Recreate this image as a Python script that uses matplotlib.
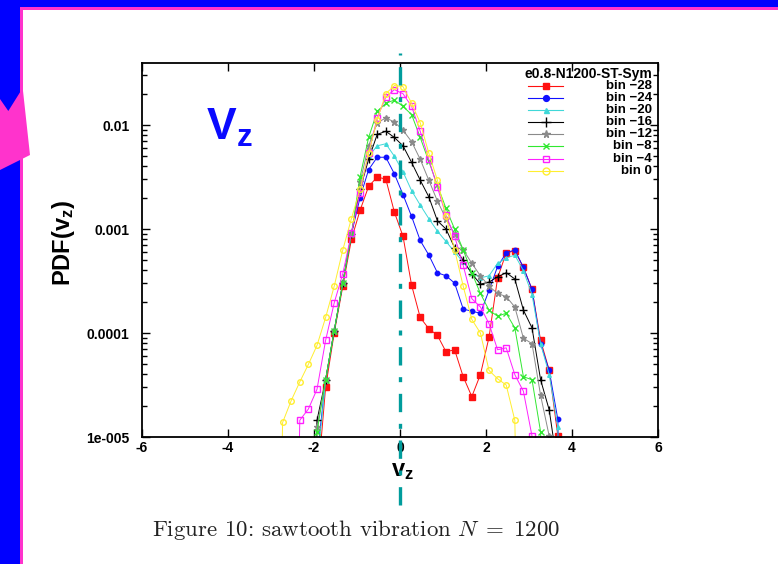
import numpy as np
import matplotlib.pyplot as plt
from matplotlib.patches import Rectangle, Polygon
from matplotlib.ticker import NullFormatter, NullLocator, LogLocator

# velocity bin centres (v_z)
vz = [-2.93, -2.73, -2.53, -2.33, -2.13, -1.93, -1.73, -1.53, -1.33, -1.13,
      -0.93, -0.73, -0.53, -0.33, -0.13, 0.07, 0.27, 0.47, 0.67, 0.87,
      1.07, 1.27, 1.47, 1.67, 1.87, 2.07, 2.27, 2.47, 2.67, 2.87,
      3.07, 3.27, 3.47, 3.67, 3.87]

nan = np.nan
pdf_m28 = [nan, nan, nan, nan, nan, 3.2e-6, 3.0e-5, 1.0e-4, 2.82e-4, 7.94e-4,
           1.51e-3, 2.57e-3, 3.16e-3, 3.02e-3, 1.45e-3, 8.51e-4, 2.88e-4, 1.41e-4, 1.1e-4, 9.5e-5,
           6.6e-5, 6.9e-5, 3.8e-5, 2.45e-5, 3.98e-5, 9.1e-5, 3.39e-4, 5.89e-4, 6.17e-4, 4.27e-4,
           2.63e-4, 8.5e-5, 4.37e-5, 1.03e-5, 1e-9]
pdf_m24 = [nan, nan, nan, nan, nan, 6.3e-6, 3.55e-5, 1.05e-4, 3.02e-4, 8.91e-4,
           2.0e-3, 3.72e-3, 4.9e-3, 4.9e-3, 3.39e-3, 2.14e-3, 1.32e-3, 7.76e-4, 5.62e-4, 3.8e-4,
           3.55e-4, 3.02e-4, 1.7e-4, 1.62e-4, 1.55e-4, 2.57e-4, 4.37e-4, 5.89e-4, 6.31e-4, 4.27e-4,
           2.63e-4, 7.9e-5, 4.37e-5, 1.48e-5, 1e-9]
pdf_m20 = [nan, nan, nan, nan, nan, 5.0e-6, 3.55e-5, 1.05e-4, 3.02e-4, 8.91e-4,
           2.51e-3, 5.0e-3, 6.31e-3, 6.61e-3, 5.0e-3, 3.55e-3, 2.34e-3, 1.7e-3, 1.26e-3, 9.55e-4,
           7.59e-4, 6.03e-4, 4.79e-4, 3.8e-4, 3.39e-4, 3.55e-4, 4.68e-4, 5.25e-4, 5.62e-4, 3.98e-4,
           2.34e-4, 7.9e-5, 3.98e-5, 1.26e-5, 1e-9]
pdf_m16 = [nan, nan, nan, nan, 1e-9, 1.45e-5, 3.55e-5, 1.05e-4, 3.02e-4, 8.91e-4,
           2.4e-3, 4.68e-3, 8.13e-3, 8.71e-3, 7.59e-3, 6.31e-3, 4.37e-3, 2.95e-3, 2.04e-3, 1.2e-3,
           1.0e-3, 6.61e-4, 5.0e-4, 3.72e-4, 2.95e-4, 3.09e-4, 3.47e-4, 3.8e-4, 3.31e-4, 1.66e-4,
           1.12e-4, 3.55e-5, 1.82e-5, 5.0e-6, nan]
pdf_m12 = [nan, nan, nan, nan, 1e-9, 1.26e-5, 3.55e-5, 1.05e-4, 3.02e-4, 8.91e-4,
           2.82e-3, 6.31e-3, 1.05e-2, 1.17e-2, 1.07e-2, 8.91e-3, 6.92e-3, 4.68e-3, 2.95e-3, 1.86e-3,
           1.26e-3, 8.91e-4, 6.31e-4, 4.68e-4, 3.55e-4, 2.82e-4, 2.4e-4, 2.24e-4, 1.78e-4, 8.91e-5,
           7.9e-5, 2.51e-5, 1.02e-5, 1e-9, nan]
pdf_m8 = [nan, nan, nan, nan, 1e-9, 1.12e-5, 3.55e-5, 1.05e-4, 3.02e-4, 8.91e-4,
          3.16e-3, 7.59e-3, 1.35e-2, 1.62e-2, 1.74e-2, 1.51e-2, 1.26e-2, 7.59e-3, 4.47e-3, 2.63e-3,
          1.58e-3, 1.0e-3, 6.31e-4, 3.8e-4, 2.4e-4, 1.66e-4, 1.45e-4, 1.55e-4, 1.12e-4, 3.8e-5,
          3.55e-5, 1.12e-5, 1e-9, nan, nan]
pdf_m4 = [nan, nan, 1e-9, 1.45e-5, 1.86e-5, 2.88e-5, 8.5e-5, 1.95e-4, 3.72e-4, 9.12e-4,
          2.24e-3, 5.37e-3, 1.17e-2, 1.86e-2, 2.19e-2, 2.0e-2, 1.51e-2, 8.71e-3, 4.68e-3, 2.51e-3,
          1.35e-3, 8.51e-4, 4.47e-4, 2.14e-4, 1.78e-4, 1.23e-4, 6.9e-5, 7.2e-5, 3.98e-5, 2.75e-5,
          1.02e-5, 1e-9, nan, nan, nan]
pdf_0 = [1e-9, 1.38e-5, 2.24e-5, 3.39e-5, 5.0e-5, 7.6e-5, 1.41e-4, 2.82e-4, 6.31e-4, 1.26e-3,
         2.4e-3, 5.37e-3, 1.12e-2, 2.0e-2, 2.4e-2, 2.34e-2, 1.62e-2, 1.05e-2, 5.37e-3, 2.95e-3,
         1.32e-3, 6.31e-4, 2.82e-4, 1.35e-4, 1.0e-4, 4.37e-5, 3.63e-5, 3.16e-5, 1.45e-5, 1e-9,
         nan, nan, nan, nan, nan]

series = [pdf_m28, pdf_m24, pdf_m20, pdf_m16, pdf_m12, pdf_m8, pdf_m4, pdf_0]
labels = ["bin \u221228", "bin \u221224", "bin \u221220", "bin \u221216",
          "bin \u221212", "bin \u22128", "bin \u22124", "bin 0"]
colors = ["#ff1010", "#1010ff", "#40d8d8", "#000000", "#8a8a8a", "#30e830", "#ff20ff", "#ffee30"]
markers = ["s", "o", "^", "+", "*", "x", "s", "o"]
msizes = [4, 3.2, 2.6, 5.5, 4.5, 4, 4, 4]
filled = [True, True, True, True, True, True, False, False]
legend_title = "e0.8-N1200-ST-Sym"

plt.rcParams['font.family'] = 'Liberation Sans'
plt.rcParams['axes.unicode_minus'] = False
plt.rcParams['mathtext.fontset'] = 'custom'
plt.rcParams['mathtext.bf'] = 'Liberation Sans:bold'
plt.rcParams['mathtext.rm'] = 'Liberation Sans'
plt.rcParams['mathtext.it'] = 'Liberation Sans:italic'

W, H = 778, 564
fig = plt.figure(figsize=(W / 100, H / 100), dpi=100)

# slide frame
fig.add_artist(Rectangle((0, 0), 20 / W, 1, transform=fig.transFigure, color="#0000ff", lw=0))
fig.add_artist(Rectangle((0, 1 - 7 / H), 1, 7 / H, transform=fig.transFigure, color="#0000ff", lw=0))
fig.add_artist(Rectangle((20 / W, 1 - 10 / H), 1, 3 / H, transform=fig.transFigure, color="#ff33cc", lw=0))
fig.add_artist(Rectangle((20 / W, 0), 3 / W, 1 - 7 / H, transform=fig.transFigure, color="#ff33cc", lw=0))
arrow_px = [(0, 99), (8.3, 111), (22.7, 88), (30, 155), (0, 170)]
fig.add_artist(Polygon([(x / W, 1 - y / H) for x, y in arrow_px], closed=True,
                       transform=fig.transFigure, color="#ff33cc", lw=0))

ax = fig.add_axes([142 / W, 1 - 437 / H, 516 / W, 374 / H])

for vals, c, m, ms, f in zip(series, colors, markers, msizes, filled):
    ax.plot(vz, vals, color=c, lw=0.7, marker=m, ms=ms,
            mfc=c if f else "none", mec=c, mew=1.0)

ax.set_yscale("log")
ax.set_xlim(-6, 6)
ax.set_ylim(1e-5, 0.0395)
ax.set_xticks([-6, -4, -2, 0, 2, 4, 6])
ax.set_xticklabels(["-6", "-4", "-2", "0", "2", "4", "6"])
ax.set_yticks([1e-5, 1e-4, 1e-3, 1e-2])
ax.set_yticklabels(["1e-005", "0.0001", "0.001", "0.01"])
ax.yaxis.set_minor_locator(LogLocator(subs=np.arange(2, 10)))
ax.yaxis.set_minor_formatter(NullFormatter())
ax.xaxis.set_minor_locator(NullLocator())
ax.tick_params(which="both", direction="in", top=True, right=True, width=1)
ax.tick_params(which="major", length=6, labelsize=10)
ax.tick_params(which="minor", length=3.5)
ax.tick_params(axis="y", pad=9)
ax.tick_params(axis="x", pad=3)
for lab in ax.get_xticklabels() + ax.get_yticklabels():
    lab.set_fontweight("bold")
for sp in ax.spines.values():
    sp.set_linewidth(1.3)

# dash-dot marker line at v_z = 0
ax.axvline(0, ymin=-0.182, ymax=1.027, color="#009c9c", lw=2.4,
           ls=(0, (5.5, 3.5, 1.5, 3.5)), clip_on=False, zorder=5)

ax.set_xlabel("v$_\\mathbf{z}$", fontsize=17, fontweight="bold")
ax.xaxis.set_label_coords(0.504, -0.09)
ax.xaxis.label.set_va("center")
ax.set_ylabel("PDF(v$_\\mathbf{z}$)", fontsize=17, fontweight="bold")
ax.yaxis.set_label_coords(-0.152, 0.52)
ax.yaxis.label.set_va("center")

ax.text(-4.5, 7.2e-3, "V$_\\mathbf{z}$", color="#0a0aff", fontsize=32,
        fontweight="bold", va="baseline")

# legend, gnuplot style (right-aligned labels)
ax.text(0.988, 0.971, legend_title, transform=ax.transAxes, ha="right", va="center",
        fontsize=10, fontweight="bold")
for i, (lab, c, m, ms, f) in enumerate(zip(labels, colors, markers, msizes, filled)):
    y = 0.939 - i * 0.0324
    ax.plot([0.748, 0.816], [y, y], transform=ax.transAxes, color=c, lw=0.8, clip_on=False)
    ax.plot([0.782], [y], transform=ax.transAxes, color=c, marker=m, ms=ms + 1,
            mfc=c if f else "none", mec=c, mew=1.0, clip_on=False)
    ax.text(0.988, y, lab, transform=ax.transAxes, ha="right", va="center",
            fontsize=9.5, fontweight="bold")

fig.text(152 / W, 1 - 530 / H, "Figure 10: sawtooth vibration $N\\;=\\;1200$",
         fontfamily="cmr10", math_fontfamily="cm", fontsize=16.5, va="center", color="#222222")

fig.savefig("out.png", dpi=100)
